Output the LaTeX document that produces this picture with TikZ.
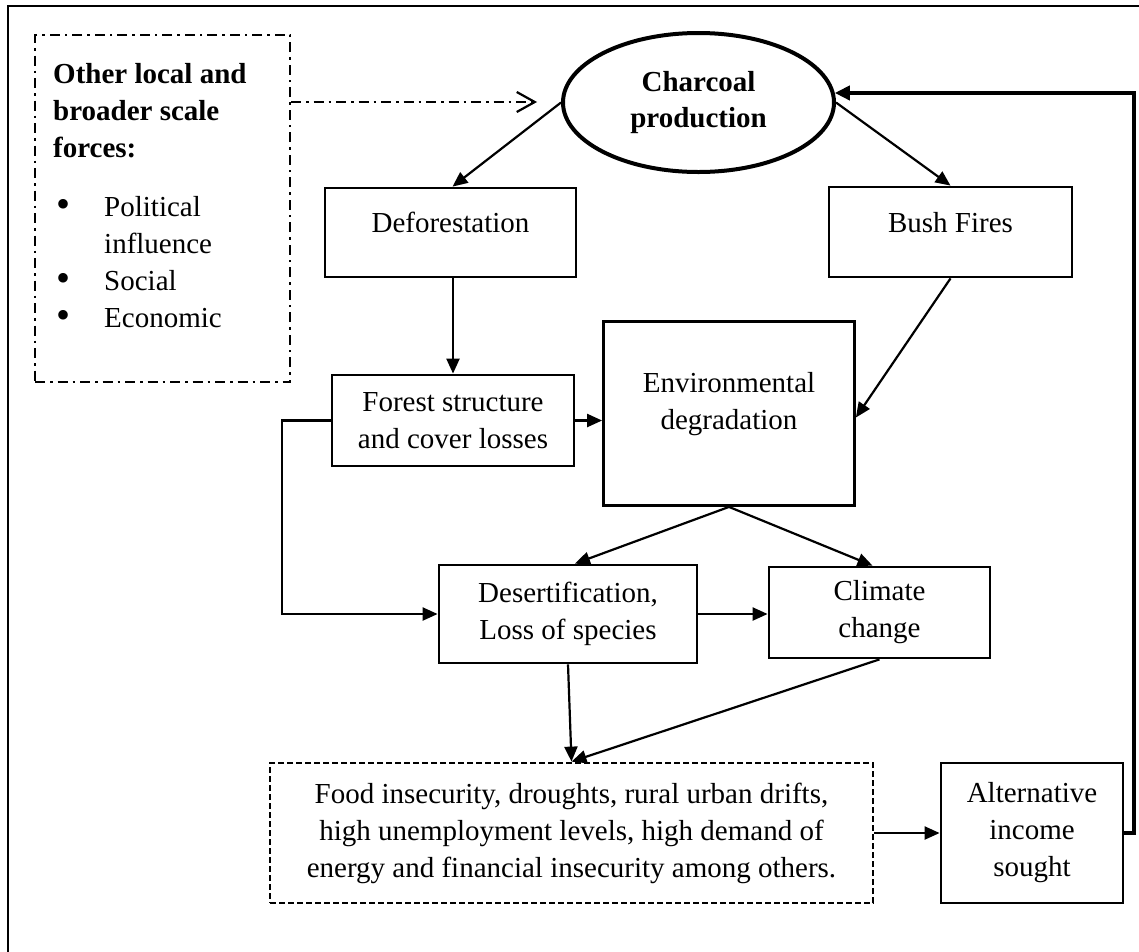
\documentclass[tikz,border=0pt]{standalone}
\usepackage{fontspec}
\setmainfont{Liberation Serif}
\usetikzlibrary{arrows.meta,shapes.geometric}

\newcommand{\bigbullet}{\makebox[51pt][l]{\hspace*{3pt}\raisebox{-1pt}{\fontsize{40}{37}\selectfont\textbullet}}}

\begin{document}
\begin{tikzpicture}[x=1pt,y=-1pt,every node/.style={font=\fontsize{29}{37}\selectfont},
  box/.style={draw,line width=2.8pt,align=center,inner sep=0pt},
  dashdot/.style={line width=2.4pt,dash pattern=on 10pt off 5pt on 2.5pt off 5pt},
  link/.style={line width=2.2pt,-{Triangle[length=15pt,width=13pt]}}]
  \useasboundingbox (0,0) rectangle (1139,951);
  \begin{scope}
    \clip (0,0) rectangle (1139,951);
    \draw[line width=2.5pt] (8,6) rectangle (1160,970);
  \end{scope}
  % outside forces
  \node[dashdot,draw,minimum width=255pt,minimum height=347pt,inner sep=0pt] (forces) at (162.5,208.5) {};
  \node[anchor=north west,align=left,inner sep=0pt] (forcetext) at (53,63)
    {\textbf{Other local and}\\\textbf{broader scale}\\\textbf{forces:}\\[22pt]
     \bigbullet Political\\\hspace*{51pt}influence\\
     \bigbullet Social\\\bigbullet Economic};
  \node[ellipse,draw,line width=4pt,minimum width=271pt,minimum height=139pt,inner sep=0pt,
    align=center,font=\fontsize{29}{36}\selectfont\bfseries] (charcoal) at (698.5,102.5) {Charcoal\\production};
  \node[box,minimum width=251pt,minimum height=89pt,text height=20pt,text depth=20pt] (defor) at (450.5,232.5) {Deforestation};
  \node[box,minimum width=243pt,minimum height=90pt,text height=20pt,text depth=20pt] (bush) at (950.5,232) {Bush Fires};
  \node[box,minimum width=242pt,minimum height=91pt] (forest) at (453,420.5) {Forest structure\\and cover losses};
  \node[box,minimum width=251pt,minimum height=184pt] (env) at (729,413.5) {};
  \node[align=center,inner sep=0pt] (envtext) at (729,404) {Environmental\\degradation};
  \node[box,minimum width=258pt,minimum height=98pt] (desert) at (568,614) {Desertification,\\Loss of species};
  \node[box,minimum width=221pt,minimum height=91pt] (climate) at (879.5,612.5) {Climate\\change};
  \node[box,dash pattern=on 6pt off 3pt,minimum width=603pt,minimum height=140pt] (food) at (571.5,833)
    {Food insecurity, droughts, rural urban drifts,\\high unemployment levels, high demand of\\energy and financial insecurity among others.};
  \node[box,minimum width=182pt,minimum height=140pt] (alt) at (1032,833) {Alternative\\income\\sought};

  \coordinate (dashtip) at (537,102);
  \draw[dashdot,line width=2.2pt,-{Straight Barb[length=18pt,width=20pt]}] (dashtip -| forces.east) -- (dashtip);
  \draw[link] (charcoal.west) -- ([xshift=2pt]defor.north);
  \draw[link] (charcoal.east) -- (bush.north);
  \draw[link] (defor.south -| forest.north) -- (forest.north);
  \draw[link] (bush.south) -- ([yshift=-4pt]env.east);
  \draw[link] (forest.east) -- (forest.east -| env.west);
  \draw[link] (forest.west) -- ++(-49,0) |- (desert.west);
  \draw[link] (env.south) -- ([xshift=7pt]desert.north);
  \draw[link] (env.south) -- ([xshift=-7pt]climate.north);
  \draw[link] (desert.east) -- (desert.east -| climate.west);
  \draw[link] (desert.south) -- (food.north);
  \draw[link] (climate.south) -- (food.north);
  \draw[link] (food.east) -- (alt.west);
  \draw[line width=4pt,-{Triangle[length=15pt,width=14pt]}] (alt.east) -- ++(10,0) |- (charcoal.4);
\end{tikzpicture}
\end{document}
